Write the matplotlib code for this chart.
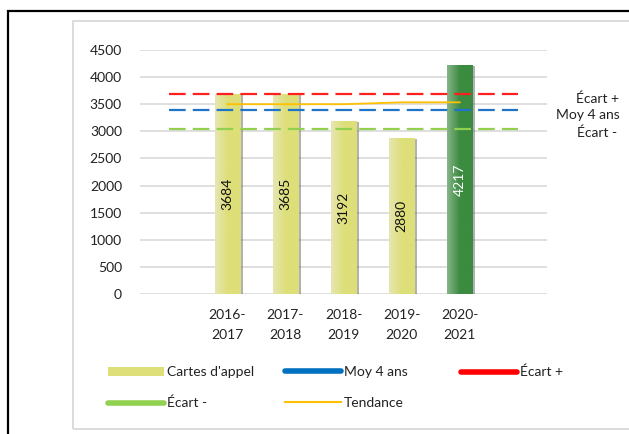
import matplotlib
matplotlib.use("Agg")
import matplotlib.pyplot as plt
import matplotlib.patheffects as pe
from matplotlib.lines import Line2D
from matplotlib.patches import Rectangle
import numpy as np

plt.rcParams['font.family'] = ['Lato', 'DejaVu Sans']

# ---- data ----
categories = ["", "2016-\n2017", "2017-\n2018", "2018-\n2019", "2019-\n2020", "2020-\n2021", ""]
bar_values = [3684, 3685, 3192, 2880, 4217]
moy_4_ans = [3385, 3385, 3385, 3385, 3385, 3385, 3385]
ecart_plus = [3690, 3690, 3690, 3690, 3690, 3690, 3690]
ecart_moins = [3052, 3052, 3052, 3052, 3052, 3052, 3052]
tendance = [3500, 3500, 3500, 3535, 3535]
y_ticks = [0, 500, 1000, 1500, 2000, 2500, 3000, 3500, 4000, 4500]

W, H = 629, 434
fig = plt.figure(figsize=(W / 100, H / 100), dpi=100)

def fx(px):
    return px / W

def fy(py):
    return 1 - py / H

# frames
fig.add_artist(Rectangle((fx(8), fy(440)), fx(700), fy(11) - fy(440), transform=fig.transFigure,
                         fill=False, edgecolor='black', lw=1.6))
fig.add_artist(Rectangle((fx(73), fy(429)), fx(700), fy(21) - fy(429), transform=fig.transFigure,
                         fill=False, edgecolor='#D9D9D9', lw=1.3))

ax = fig.add_axes([fx(140), fy(294), fx(547) - fx(140), fy(50) - fy(294)])
ax.set_xlim(-0.5, len(categories) - 0.5)
ax.set_ylim(0, 4500)
for s in ax.spines.values():
    s.set_visible(False)
ax.set_yticks(y_ticks)
ax.set_yticklabels([str(v) for v in y_ticks], fontsize=10, color='#222222')
ax.set_xticks(range(len(categories)))
ax.set_xticklabels(categories, fontsize=10, color='#222222', linespacing=1.8)
ax.tick_params(length=0)
ax.tick_params(axis='y', pad=13)
ax.tick_params(axis='x', pad=11)
ax.yaxis.grid(True, color='#D9D9D9', lw=1.2)
ax.set_axisbelow(True)
ax.patch.set_alpha(0)

bar_x = list(range(1, 1 + len(bar_values)))
colors = ['#DEDF79'] * 4 + ['#3B8B40']
light = ['#E6E6B2'] * 4 + ['#86B588']
bars = ax.bar(bar_x, bar_values, width=0.43, color=colors, zorder=2,
              path_effects=[pe.SimplePatchShadow(offset=(2.2, -0.8), shadow_rgbFace='#555555', alpha=0.45),
                            pe.Normal()])
# horizontal gradient overlay
for b, c0, c1 in zip(bars, light, colors):
    x0, w, h = b.get_x(), b.get_width(), b.get_height()
    rgb0 = np.array(matplotlib.colors.to_rgb(c0))
    rgb1 = np.array(matplotlib.colors.to_rgb(c1))
    t = np.clip(np.linspace(0, 1, 64) / 0.5, 0, 1)
    grad = (rgb0[None, :] * (1 - t[:, None]) + rgb1[None, :] * t[:, None])[None, :, :]
    im = ax.imshow(grad, extent=[x0, x0 + w, 0, h], aspect='auto', zorder=2.1, interpolation='bilinear')
    im.set_clip_path(b)

ax.set_xlim(-0.5, len(categories) - 0.5)
ax.set_ylim(0, 4500)

for xi, v in zip(bar_x, bar_values):
    ax.text(xi, v / 2, str(v), rotation=90, ha='center', va='center', fontsize=10,
            color='white' if v == max(bar_values) else '#111111', zorder=5)

xs = list(range(len(categories)))
dash = (0, (7.5, 3.2))
ax.plot(xs, ecart_plus, color='#FF1F1F', lw=1.6, linestyle=dash, zorder=4)
ax.plot(xs, moy_4_ans, color='#1F74C8', lw=1.6, linestyle=dash, zorder=4)
ax.plot(xs, ecart_moins, color='#92D050', lw=1.6, linestyle=dash, zorder=4)
ax.plot(bar_x, tendance, color='#FFC000', lw=1.3, zorder=4)

# right-side labels
fig.text(fx(619), fy(99), "Écart +", ha='right', va='center', fontsize=10, color='#222222')
fig.text(fx(620), fy(115), "Moy 4 ans", ha='right', va='center', fontsize=10, color='#222222')
fig.text(fx(617), fy(133), "Écart -", ha='right', va='center', fontsize=10, color='#222222')

# legend
h_cartes = Rectangle((0, 0), 1, 1, facecolor='#DEDF79', edgecolor='none')
h_moy = Line2D([], [], color='#0070C0', lw=4, solid_capstyle='round')
h_ep = Line2D([], [], color='#FF0000', lw=4, solid_capstyle='round')
h_em = Line2D([], [], color='#92D050', lw=4, solid_capstyle='round')
h_t = Line2D([], [], color='#FFC000', lw=1.5)

common = dict(frameon=False, fontsize=10, handlelength=4.0, handletextpad=0.25,
              labelspacing=1.35, borderaxespad=0, borderpad=0, handleheight=0.6,
              loc='upper left', bbox_transform=fig.transFigure)
leg1 = fig.legend([h_cartes, h_em], ["Cartes d'appel", "Écart -"], bbox_to_anchor=(fx(108), fy(366)), **common)
leg2 = fig.legend([h_moy, h_t], ["Moy 4 ans", "Tendance"], bbox_to_anchor=(fx(285), fy(366)), **common)
leg3 = fig.legend([h_ep], ["Écart +"], bbox_to_anchor=(fx(461), fy(366)), **common)
for lg in (leg1, leg2, leg3):
    for t in lg.get_texts():
        t.set_color('#222222')

fig.savefig("out.png", dpi=100)
